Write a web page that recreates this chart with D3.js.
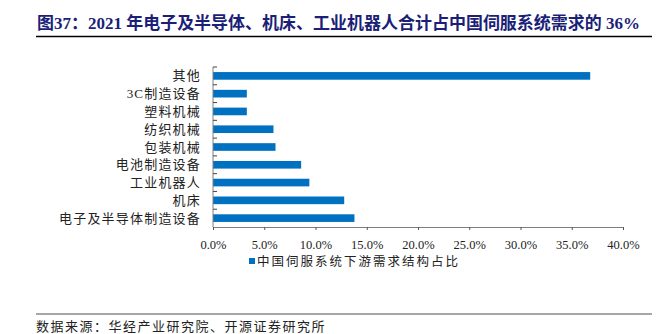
<!DOCTYPE html>
<html><head><meta charset="utf-8">
<script src="https://cdn.jsdelivr.net/npm/d3@7"></script>
<style>body{margin:0;background:#fff}</style>
</head><body>
<svg id="c" width="671" height="334"></svg>
<script>
const categories = ["其他","3C制造设备","塑料机械","纺织机械","包装机械","电池制造设备","工业机器人","机床","电子及半导体制造设备"];
const values = [36.8,3.3,3.3,5.9,6.1,8.6,9.4,12.8,13.8];
const xTicks = [0,5,10,15,20,25,30,35,40];
const title = "图37：2021 年电子及半导体、机床、工业机器人合计占中国伺服系统需求的 36%";
const legendLabel = "中国伺服系统下游需求结构占比";
const source = "数据来源：华经产业研究院、开源证券研究所";

const svg = d3.select("#c");
const serif = "'Liberation Serif','Noto Sans CJK SC',serif";
const cjk = "'Liberation Serif','Noto Sans CJK SC',sans-serif";

// title
svg.append("text").attr("x",37).attr("y",29).attr("font-family",serif)
  .attr("font-size",17).attr("font-weight","bold").attr("fill","#1b1f78")
  .attr("textLength",603).attr("lengthAdjust","spacingAndGlyphs").text(title);
svg.append("line").attr("x1",36).attr("x2",652).attr("y1",36.5).attr("y2",36.5)
  .attr("stroke","#000").attr("stroke-width",1.3);

const x = d3.scaleLinear().domain([0,40]).range([213,623]);
const y = d3.scaleBand().domain(categories).range([67,227]).paddingInner(0.57).paddingOuter(0.285);

// bars
svg.append("g").selectAll("rect").data(values).join("rect")
  .attr("x",x(0)).attr("y",(d,i)=>y(categories[i]))
  .attr("width",d=>x(d)-x(0)).attr("height",y.bandwidth())
  .attr("fill","#0070C0");

// y axis
const step = (227-67)/categories.length;
svg.append("line").attr("x1",213).attr("x2",213).attr("y1",67).attr("y2",227).attr("stroke","#7f7f7f").attr("stroke-width",1);
d3.range(categories.length).forEach(i=>{
  svg.append("line").attr("x1",213).attr("x2",217).attr("y1",67+i*step).attr("y2",67+i*step).attr("stroke","#444");
});
svg.append("g").selectAll("text").data(categories).join("text")
  .attr("x",201).attr("y",d=>y(d)+y.bandwidth()/2+4.5).attr("text-anchor","end")
  .attr("font-family",cjk).attr("font-size",13).attr("letter-spacing",1.2).attr("fill","#222").text(d=>d);

// x axis
const xAxis = d3.axisBottom(x).tickValues(xTicks).tickSize(3).tickFormat(d=>d3.format(".1f")(d)+"%");
const gx = svg.append("g").attr("transform","translate(0,227)").call(xAxis);
gx.select(".domain").attr("stroke","#7f7f7f");
gx.selectAll(".tick line").attr("stroke","#555");
gx.selectAll(".tick text").attr("font-family",serif).attr("font-size",12.5).attr("fill","#222").attr("dy",0).attr("y",22);

// legend
svg.append("rect").attr("x",249).attr("y",258).attr("width",6).attr("height",6).attr("fill","#0070C0");
svg.append("text").attr("x",257).attr("y",266).attr("font-family",cjk).attr("font-size",12.5)
  .attr("letter-spacing",2).attr("fill","#222").text(legendLabel);

// footer
svg.append("line").attr("x1",36).attr("x2",652).attr("y1",314).attr("y2",314).attr("stroke","#888").attr("stroke-width",1.5);
svg.append("text").attr("x",36).attr("y",331).attr("font-family",cjk).attr("font-size",13)
  .attr("letter-spacing",1.5).attr("fill","#222").text(source);
</script>
</body></html>
